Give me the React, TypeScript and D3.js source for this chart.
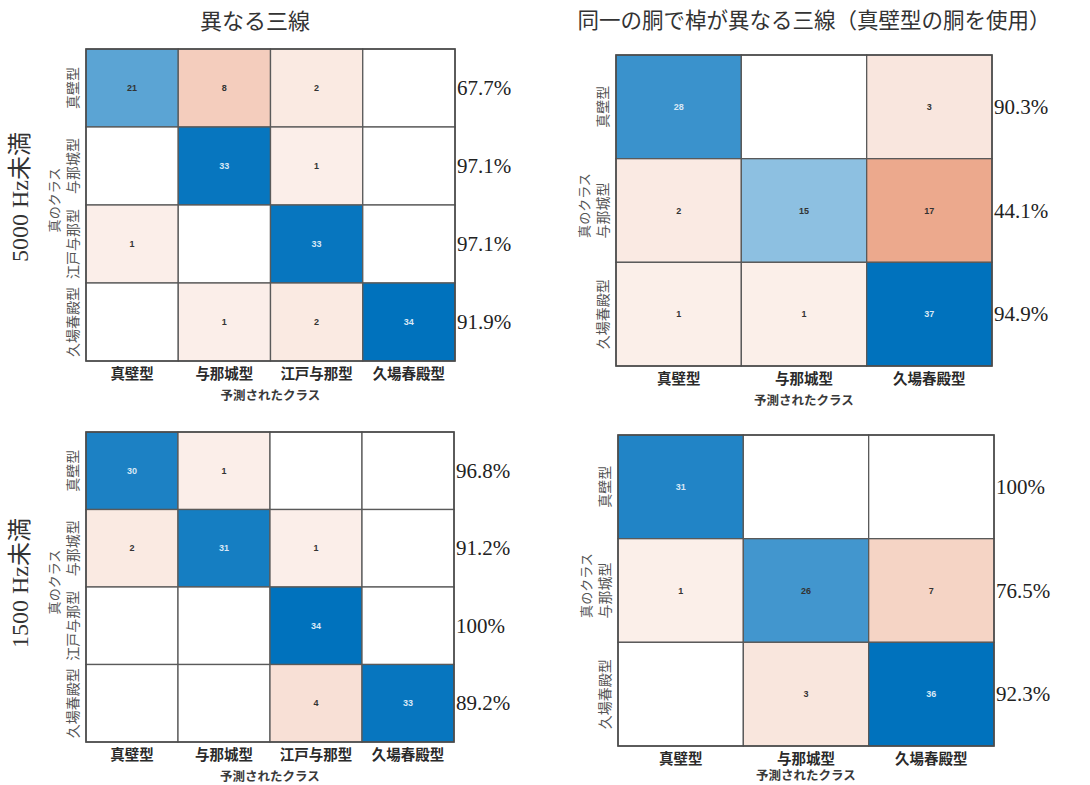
import React from "react";
import * as d3 from "d3";

const classes4 = ["真壁型", "与那城型", "江戸与那型", "久場春殿型"];
const classes3 = ["真壁型", "与那城型", "久場春殿型"];

const m5000diff = [
  [21, 8, 2, 0],
  [0, 33, 1, 0],
  [1, 0, 33, 0],
  [0, 1, 2, 34],
];
const m5000same = [
  [28, 0, 3],
  [2, 15, 17],
  [1, 1, 37],
];
const m1500diff = [
  [30, 1, 0, 0],
  [2, 31, 1, 0],
  [0, 0, 34, 0],
  [0, 0, 4, 33],
];
const m1500same = [
  [31, 0, 0],
  [1, 26, 7],
  [0, 3, 36],
];

const colTitles = ["異なる三線", "同一の胴で棹が異なる三線（真壁型の胴を使用）"];
const rowTitles = ["5000 Hz未満", "1500 Hz未満"];
const xAxisTitle = "予測されたクラス";
const yAxisTitle = "真のクラス";

const SERIF = "'Liberation Serif', 'Noto Sans CJK JP', serif";
const CJK = "'Liberation Serif', 'Noto Sans CJK JP', sans-serif";

const DIAG = "#0072BD";
const OFF = "#D95319";

type PanelProps = {
  data: number[][];
  classes: string[];
  x0: number;
  x1: number;
  y0: number;
  y1: number;
  xTitleOffset?: number;
};

function Panel({ data, classes, x0, x1, y0, y1, xTitleOffset = 35 }: PanelProps) {
  const x = d3.scaleBand<string>().domain(classes).range([x0, x1]);
  const y = d3.scaleBand<string>().domain(classes).range([y0, y1]);
  const maxV = d3.max(data.flat()) as number;
  const t = d3.scaleLinear().domain([0, maxV]).range([0.07, 1]);
  const diagI = d3.interpolateRgb("#ffffff", DIAG);
  const offI = d3.interpolateRgb("#ffffff", OFF);
  const cells: any[] = [];
  data.forEach((row, i) =>
    row.forEach((v, j) => {
      cells.push({ i, j, v });
    })
  );
  const gy = (y0 + y1) / 2;
  return (
    <g>
      {cells.map((c) => {
        const fill = c.v === 0 ? "#ffffff" : c.i === c.j ? diagI(t(c.v)) : offI(t(c.v));
        return (
          <rect
            key={`r${c.i}-${c.j}`}
            x={x(classes[c.j])}
            y={y(classes[c.i])}
            width={x.bandwidth()}
            height={y.bandwidth()}
            fill={fill}
            stroke="#5a5a5a"
            strokeWidth={1.3}
          />
        );
      })}
      {cells
        .filter((c) => c.v > 0)
        .map((c) => (
          <text
            key={`t${c.i}-${c.j}`}
            x={(x(classes[c.j]) as number) + x.bandwidth() / 2}
            y={(y(classes[c.i]) as number) + y.bandwidth() / 2}
            textAnchor="middle"
            dominantBaseline="central"
            fontFamily="'Liberation Sans', Arial, sans-serif"
            fontSize={9}
            fontWeight={600}
            fill={c.i === c.j && c.v / maxV > 0.74 ? "#d8e8f6" : "#333333"}
          >
            {c.v}
          </text>
        ))}
      <rect x={x0} y={y0} width={x1 - x0} height={y1 - y0} fill="none" stroke="#4a4a4a" strokeWidth={1.5} />
      {classes.map((cl) => (
        <text
          key={`xl${cl}`}
          x={(x(cl) as number) + x.bandwidth() / 2}
          y={y1 + 13}
          textAnchor="middle"
          dominantBaseline="central"
          fontFamily={CJK}
          fontSize={14.5}
          fontWeight={700}
          fill="#2a2a2a"
        >
          {cl}
        </text>
      ))}
      {classes.map((cl) => {
        const cy = (y(cl) as number) + y.bandwidth() / 2;
        const cx = x0 - 13;
        return (
          <text
            key={`yl${cl}`}
            transform={`translate(${cx},${cy}) rotate(-90)`}
            textAnchor="middle"
            dominantBaseline="central"
            fontFamily={CJK}
            fontSize={14}
            fill="#555555"
          >
            {cl}
          </text>
        );
      })}
      <text
        x={(x0 + x1) / 2}
        y={y1 + xTitleOffset}
        textAnchor="middle"
        dominantBaseline="central"
        fontFamily={CJK}
        fontSize={12.5}
        fontWeight={600}
        fill="#3a3a3a"
      >
        {xAxisTitle}
      </text>
      <text
        transform={`translate(${x0 - 32},${gy - 5}) rotate(-90)`}
        textAnchor="middle"
        dominantBaseline="central"
        fontFamily={CJK}
        fontSize={13}
        fill="#555555"
      >
        {yAxisTitle}
      </text>
      {data.map((row, i) => {
        const tot = d3.sum(row);
        const pct = (row[i] / tot) * 100;
        const label = Math.abs(pct - 100) < 1e-9 ? "100%" : `${pct.toFixed(1)}%`;
        return (
          <text
            key={`p${i}`}
            x={x1 + 2}
            y={(y(classes[i]) as number) + y.bandwidth() / 2}
            dominantBaseline="central"
            fontFamily={SERIF}
            fontSize={21}
            fill="#222222"
          >
            {label}
          </text>
        );
      })}
    </g>
  );
}

export default function App() {
  return (
    <svg
      width={1090}
      height={785}
      style={{ position: "absolute", left: 0, top: 0, background: "#ffffff" }}
    >
      <rect x={0} y={0} width={1090} height={785} fill="#ffffff" />
      <text x={255} y={21} textAnchor="middle" dominantBaseline="central" fontFamily={CJK} fontSize={22} fill="#333">
        {colTitles[0]}
      </text>
      <text x={814} y={21} textAnchor="middle" dominantBaseline="central" fontFamily={CJK} fontSize={21.5} fill="#333">
        {colTitles[1]}
      </text>
      <text
        transform="translate(20,197) rotate(-90)"
        textAnchor="middle"
        dominantBaseline="central"
        fontFamily={SERIF}
        fontSize={24}
        fill="#333"
      >
        {rowTitles[0]}
      </text>
      <text
        transform="translate(20,583) rotate(-90)"
        textAnchor="middle"
        dominantBaseline="central"
        fontFamily={SERIF}
        fontSize={24}
        fill="#333"
      >
        {rowTitles[1]}
      </text>
      <Panel data={m5000diff} classes={classes4} x0={86} x1={455} y0={49} y1={361} />
      <Panel data={m5000same} classes={classes3} x0={616} x1={992} y0={55} y1={366} />
      <Panel data={m1500diff} classes={classes4} x0={86} x1={454} y0={432} y1={742} />
      <Panel data={m1500same} classes={classes3} x0={618} x1={994} y0={435} y1={746} xTitleOffset={30} />
    </svg>
  );
}
